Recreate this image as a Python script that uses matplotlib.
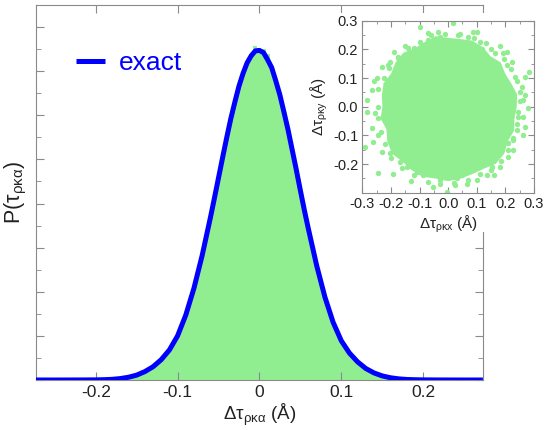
import matplotlib
matplotlib.use("Agg")
import matplotlib.pyplot as plt
from matplotlib.patches import Rectangle, Polygon
from matplotlib.ticker import MultipleLocator, FixedLocator, FormatStrFormatter

plt.rcParams["font.family"] = ["Liberation Sans", "DejaVu Sans"]
plt.rcParams["mathtext.default"] = "regular"
plt.rcParams["axes.unicode_minus"] = False

GREEN = "#90ee90"
GRAY = "#8a8a8a"
TXT = "#222222"

# "exact" distribution curve (arbitrary units, 1 = one major tick)
curve_x = [-0.273, -0.25, -0.22, -0.20, -0.19, -0.18, -0.17, -0.16, -0.15, -0.14,
           -0.13, -0.12, -0.11, -0.10, -0.09, -0.08, -0.07, -0.06, -0.055, -0.05,
           -0.045, -0.04, -0.035, -0.03, -0.025, -0.02, -0.015, -0.01, -0.005, 0.00,
           0.005, 0.01, 0.015, 0.02, 0.025, 0.03, 0.035, 0.04, 0.045, 0.05,
           0.055, 0.06, 0.07, 0.08, 0.09, 0.10, 0.11, 0.12, 0.13, 0.14,
           0.15, 0.16, 0.17, 0.18, 0.19, 0.20, 0.22, 0.25, 0.273]
curve_y = [0.0, 0.0, 0.001, 0.003, 0.007, 0.015, 0.032, 0.062, 0.11, 0.19,
           0.30, 0.46, 0.68, 1.00, 1.47, 2.08, 2.82, 3.67, 4.12, 4.58,
           5.04, 5.49, 5.92, 6.30, 6.66, 6.95, 7.19, 7.35, 7.46, 7.47,
           7.42, 7.26, 7.08, 6.78, 6.46, 6.07, 5.67, 5.22, 4.77, 4.30,
           3.84, 3.41, 2.59, 1.88, 1.31, 0.89, 0.61, 0.41, 0.26, 0.16,
           0.093, 0.051, 0.026, 0.012, 0.006, 0.003, 0.001, 0.0, 0.0]

# histogram of the sampled values (bin centres, heights)
hist_x = [round(-0.200 + 0.005 * i, 3) for i in range(81)]
hist_h = [0.004, 0.006, 0.008, 0.011, 0.016, 0.024, 0.034, 0.047, 0.066, 0.088,
          0.118, 0.155, 0.200, 0.250, 0.310, 0.380, 0.465, 0.565, 0.685, 0.830,
          1.000, 1.220, 1.470, 1.760, 2.080, 2.440, 2.820, 3.240, 3.670, 4.120,
          4.580, 5.040, 5.490, 5.920, 6.300, 6.660, 6.950, 7.220, 7.400, 7.560,
          7.520, 7.500, 7.380, 7.100, 6.800, 6.470, 6.080, 5.670, 5.220, 4.770,
          4.300, 3.840, 3.410, 2.990, 2.590, 2.220, 1.880, 1.580, 1.310, 1.090,
          0.890, 0.740, 0.610, 0.500, 0.410, 0.330, 0.265, 0.210, 0.165, 0.125,
          0.095, 0.070, 0.051, 0.037, 0.026, 0.018, 0.012, 0.009, 0.006, 0.004,
          0.003]

# inset: outline of the dense core of the (x, y) cloud and the sparse points around it
core_x = [0.235, 0.236, 0.216, 0.195, 0.180, 0.145, 0.118, 0.082, 0.041, 0.0,
          -0.043, -0.080, -0.115, -0.154, -0.180, -0.195, -0.221, -0.227, -0.225, -0.231,
          -0.211, -0.208, -0.192, -0.157, -0.125, -0.087, -0.043, 0.0, 0.043, 0.084,
          0.123, 0.164, 0.192, 0.204, 0.226, 0.227]
core_y = [0.0, 0.042, 0.079, 0.113, 0.151, 0.172, 0.204, 0.226, 0.231, 0.235,
          0.241, 0.221, 0.199, 0.184, 0.151, 0.113, 0.080, 0.040, 0.0, -0.041,
          -0.077, -0.120, -0.161, -0.188, -0.217, -0.240, -0.246, -0.255, -0.246, -0.230,
          -0.212, -0.195, -0.161, -0.118, -0.082, -0.040]
pts_x = [-0.098, 0.018, -0.069, -0.034, 0.036, 0.088, 0.100, 0.111, 0.181, 0.193,
         0.222, 0.234, 0.268, 0.283, 0.257, 0.263, 0.280, 0.263, 0.268, 0.228,
         0.225, 0.210, 0.181, 0.135, 0.100, 0.065, 0.024, -0.005, -0.052, -0.087,
         -0.110, -0.194, -0.244, -0.168, -0.232, -0.291, -0.262, -0.244, -0.267, -0.285,
         -0.285, -0.267, -0.250, -0.232, -0.209, -0.203, -0.174, -0.151, -0.128, -0.069,
         -0.029, 0.070, 0.134, 0.164, 0.204, 0.251, 0.245, 0.239, 0.210, 0.152,
         0.030, -0.029, -0.145, -0.203, -0.256, 0.120, -0.120, 0.050,
         0.250, 0.245, 0.240, 0.220, 0.195, 0.150, 0.090, 0.040, -0.010, -0.060,
         -0.100, -0.140, -0.175, -0.205, -0.225, -0.245, -0.245, -0.245, -0.235, -0.220,
         -0.200, -0.160, -0.120, -0.070, -0.030, 0.020, 0.070, 0.110, 0.150, 0.185,
         0.210, 0.225, 0.240, 0.205, -0.190, -0.260, 0.270, -0.130, 0.160, 0.260]
pts_y = [0.277, 0.293, 0.256, 0.262, 0.250, 0.262, 0.262, 0.227, 0.212, 0.186,
         0.157, 0.105, 0.105, 0.122, 0.070, 0.023, -0.006, -0.035, -0.072, -0.116,
         -0.151, -0.174, -0.209, -0.238, -0.256, -0.268, -0.273, -0.297, -0.279, -0.238,
         -0.227, -0.236, -0.233, -0.192, -0.157, -0.140, -0.122, -0.099, -0.076, -0.018,
         0.023, 0.058, 0.099, 0.140, 0.145, 0.157, 0.174, 0.212, 0.192, 0.233,
         0.244, 0.244, 0.221, 0.186, 0.145, 0.052, -0.035, -0.081, -0.128, -0.209,
         -0.250, -0.256, -0.209, -0.163, -0.023, 0.200, 0.205, -0.240,
         0.020, -0.020, 0.090, 0.130, 0.165, 0.200, 0.240, 0.255, 0.255, 0.250,
         0.225, 0.205, 0.170, 0.135, 0.100, 0.060, 0.000, -0.040, -0.090, -0.130,
         -0.180, -0.215, -0.240, -0.262, -0.270, -0.265, -0.255, -0.235, -0.220, -0.190,
         -0.150, -0.110, -0.060, 0.190, 0.190, 0.090, 0.040, -0.260, -0.240, -0.100]

fig = plt.figure(figsize=(5.45, 4.30), dpi=100)
ax = fig.add_axes([0.066, 0.1163, 0.82, 0.8721])

ax.bar(hist_x, hist_h, width=0.005, color=GREEN, linewidth=0, zorder=1)
ax.plot(curve_x, curve_y, color="#0000ff", lw=3.6, label="exact", zorder=3,
        solid_capstyle="butt", solid_joinstyle="round")

ax.set_xlim(-0.273, 0.273)
ax.set_ylim(0, 8.5)
ax.xaxis.set_major_locator(FixedLocator([-0.2, -0.1, 0.0, 0.1, 0.2]))
ax.set_xticklabels(["-0.2", "-0.1", "0", "0.1", "0.2"])
ax.yaxis.set_major_locator(MultipleLocator(1.0))
ax.yaxis.set_minor_locator(MultipleLocator(0.5))
ax.tick_params(which="both", direction="in", top=True, right=True, color=GRAY,
               labelcolor=TXT, labelsize=12.5)
ax.tick_params(which="major", length=6)
ax.tick_params(which="minor", length=3.5)
ax.tick_params(axis="y", labelleft=False)
for s in ax.spines.values():
    s.set_color(GRAY)
ax.set_xlabel(r"$\Delta\tau_{\rho\kappa\alpha}$ (Å)", fontsize=13.5, color=TXT)
ax.xaxis.set_label_coords(0.5, -0.057)
ax.set_ylabel(r"P($\tau_{\rho\kappa\alpha}$)", fontsize=15.5, color=TXT)
ax.yaxis.set_label_coords(-0.016, 0.5)

ax.legend(loc="center left", bbox_to_anchor=(0.09, 0.845), frameon=False,
          fontsize=19, labelcolor="#0000ff", handlelength=1.1, handletextpad=0.5,
          borderpad=0, borderaxespad=0)

# inset
axi = fig.add_axes([0.6648, 0.5519, 0.3150, 0.4000])
axi.add_patch(Rectangle((0.615, 0.46), 0.385, 0.51, transform=fig.transFigure,
                        facecolor="white", edgecolor="none", clip_on=False, zorder=0))
axi.add_patch(Polygon(list(zip(core_x, core_y)), closed=True, facecolor=GREEN,
                      edgecolor=GREEN, lw=2, zorder=1))
axi.scatter(pts_x, pts_y, s=15, color=GREEN, linewidths=0, zorder=2)
axi.set_xlim(-0.3, 0.3)
axi.set_ylim(-0.3, 0.3)
axi.xaxis.set_major_locator(MultipleLocator(0.1))
axi.xaxis.set_minor_locator(MultipleLocator(0.05))
axi.yaxis.set_major_locator(FixedLocator([-0.2, -0.1, 0.0, 0.1, 0.2, 0.3]))
axi.yaxis.set_minor_locator(MultipleLocator(0.05))
axi.xaxis.set_major_formatter(FormatStrFormatter("%.1f"))
axi.yaxis.set_major_formatter(FormatStrFormatter("%.1f"))
axi.tick_params(which="both", direction="in", top=True, right=True, color=GRAY,
                labelcolor=TXT, labelsize=10.5, pad=3)
axi.tick_params(which="major", length=4)
axi.tick_params(which="minor", length=2)
for s in axi.spines.values():
    s.set_color(GRAY)
axi.set_xlabel(r"$\Delta\tau_{\rho\kappa x}$ (Å)", fontsize=11, color=TXT, labelpad=2)
axi.set_ylabel(r"$\Delta\tau_{\rho\kappa y}$ (Å)", fontsize=11, color=TXT, labelpad=2)

fig.savefig("out.png", dpi=100)
